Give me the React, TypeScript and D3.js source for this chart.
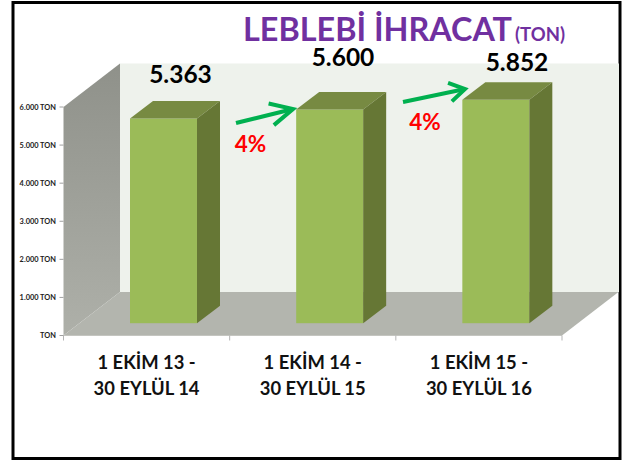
import React from "react";
import * as d3 from "d3";

const categories = ["1 EKİM 13 -|30 EYLÜL 14", "1 EKİM 14 -|30 EYLÜL 15", "1 EKİM 15 -|30 EYLÜL 16"];
const values = [5363, 5600, 5852];
const valueLabels = ["5.363", "5.600", "5.852"];
const ticks = [0, 1000, 2000, 3000, 4000, 5000, 6000];
const tickLabels = ["TON", "1.000 TON", "2.000 TON", "3.000 TON", "4.000 TON", "5.000 TON", "6.000 TON"];

const FONT = "Lato, Carlito, 'Open Sans', sans-serif";
const W = 623, H = 461;
const dx = 56.5, dy = -43.5;
const barDx = 23, barDy = -17.5;

const x = d3.scaleBand<string>().domain(categories).range([63.5, 562]).paddingInner(0).paddingOuter(0);
const y = d3.scaleLinear().domain([0, 6000]).range([335.5, 107]);
const poly = (p: [number, number][]) => (d3.line()(p) ?? "") + "Z";

const labelPos: [number, number][] = [[180.5, 83], [343, 66], [517, 71]];
const arrows: { from: [number, number]; to: [number, number]; L: number; s: number; label: string; lx: number; ly: number }[] = [
  { from: [236, 123], to: [293, 109], L: 25, s: 0.46, label: "4%", lx: 250.5, ly: 152 },
  { from: [403, 102], to: [465, 89], L: 18, s: 0.55, label: "4%", lx: 425, ly: 130 },
];

function Arrow({ from, to, L, s }: { from: [number, number]; to: [number, number]; L: number; s: number }) {
  const a = Math.atan2(to[1] - from[1], to[0] - from[0]);
  const h1: [number, number] = [to[0] - L * Math.cos(a - s), to[1] - L * Math.sin(a - s)];
  const h2: [number, number] = [to[0] - L * Math.cos(a + s), to[1] - L * Math.sin(a + s)];
  return (
    <g stroke="#00b050" strokeWidth={4} fill="none" strokeLinejoin="miter">
      <path d={d3.line()([from, to]) ?? ""} />
      <path d={d3.line()([h1, to, h2]) ?? ""} />
    </g>
  );
}

export default function App() {
  const y0 = y(0), yT = y(6000), xL = x.range()[0], xR = x.range()[1];
  const barW = 67;
  return (
    <svg width={W} height={H} viewBox={`0 0 ${W} ${H}`} style={{ position: "fixed", left: 0, top: 0, background: "#fff" }} fontFamily={FONT}>
      <defs>
        <linearGradient id="side" x1="0" x2="0" y1="0" y2="1">
          <stop offset="0" stopColor="#8f918a" />
          <stop offset="1" stopColor="#aeb0a9" />
        </linearGradient>
        <filter id="soft" x="-5%" y="-5%" width="110%" height="110%"><feGaussianBlur stdDeviation="0.45" /></filter>
      </defs>
      <rect x={13} y={2.5} width={607} height={456} fill="#fff" stroke="#000" strokeWidth={3} />
      <g filter="url(#soft)">
        <path d={poly([[xL + dx, yT + dy], [619, yT + dy], [619, y0 + dy], [xL + dx, y0 + dy]])} fill="#eef2ec" />
        <path d={poly([[xL, yT], [xL + dx, yT + dy], [xL + dx, y0 + dy], [xL, y0]])} fill="url(#side)" />
        <path d={poly([[xL, y0], [xL + dx, y0 + dy], [xR + dx, y0 + dy], [xR, y0]])} fill="#b3b5ae" />
        <path d={`M${xL} ${y0}H${xR}`} stroke="#c4c5c0" strokeWidth={1} />
        {categories.concat("end").map((c, i) => {
          const tx = xL + i * x.bandwidth();
          return <path key={c} d={`M${tx} ${y0}V${y0 + 5}`} stroke="#b5b5b5" />;
        })}
        {ticks.map((t) => <path key={t} d={`M${xL - 4} ${y(t)}H${xL}`} stroke="#a0a0a0" />)}
        {values.map((v, i) => {
          const x0 = (x(categories[i]) as number) + 66.5;
          const top = y(v) - 12.8;
          const bot = y(0) - 12.3;
          return (
            <g key={i}>
              <rect x={x0} y={top} width={barW} height={bot - top} fill="#9bbb59" />
              <path d={poly([[x0, top], [x0 + barDx, top + barDy], [x0 + barW + barDx, top + barDy], [x0 + barW, top]])} fill="#778a42" />
              <path d={poly([[x0 + barW, top], [x0 + barW + barDx, top + barDy], [x0 + barW + barDx, bot + barDy], [x0 + barW, bot]])} fill="#667734" />
            </g>
          );
        })}
        {arrows.map((a, i) => <Arrow key={i} from={a.from} to={a.to} L={a.L} s={a.s} />)}
      </g>
      {ticks.map((t, i) => (
        <text key={t} x={56} y={y(t) + 2.5} textAnchor="end" fontSize={7.4} fontWeight={700} fill="#222">{tickLabels[i]}</text>
      ))}
      {categories.map((c) => {
        const cx = (x(c) as number) + x.bandwidth() / 2;
        return c.split("|").map((line, j) => (
          <text key={j} x={cx} y={368.5 + j * 26} textAnchor="middle" fontSize={18.4} fontWeight={700} fill="#111">{line}</text>
        ));
      })}
      {valueLabels.map((l, i) => (
        <text key={l} x={labelPos[i][0]} y={labelPos[i][1]} textAnchor="middle" fontSize={24.5} fontWeight={700} fill="#000">{l}</text>
      ))}
      {arrows.map((a, i) => (
        <text key={i} x={a.lx} y={a.ly} textAnchor="middle" fontSize={22.5} fontWeight={700} fill="#ff0000">{a.label}</text>
      ))}
      <text x={243} y={41} fontWeight={700} fill="#7030a0" fontSize={33} textLength={269} lengthAdjust="spacingAndGlyphs">LEBLEBİ İHRACAT</text>
      <text x={515} y={41} fontWeight={700} fill="#7030a0" fontSize={18} textLength={50} lengthAdjust="spacingAndGlyphs">(TON)</text>
    </svg>
  );
}
